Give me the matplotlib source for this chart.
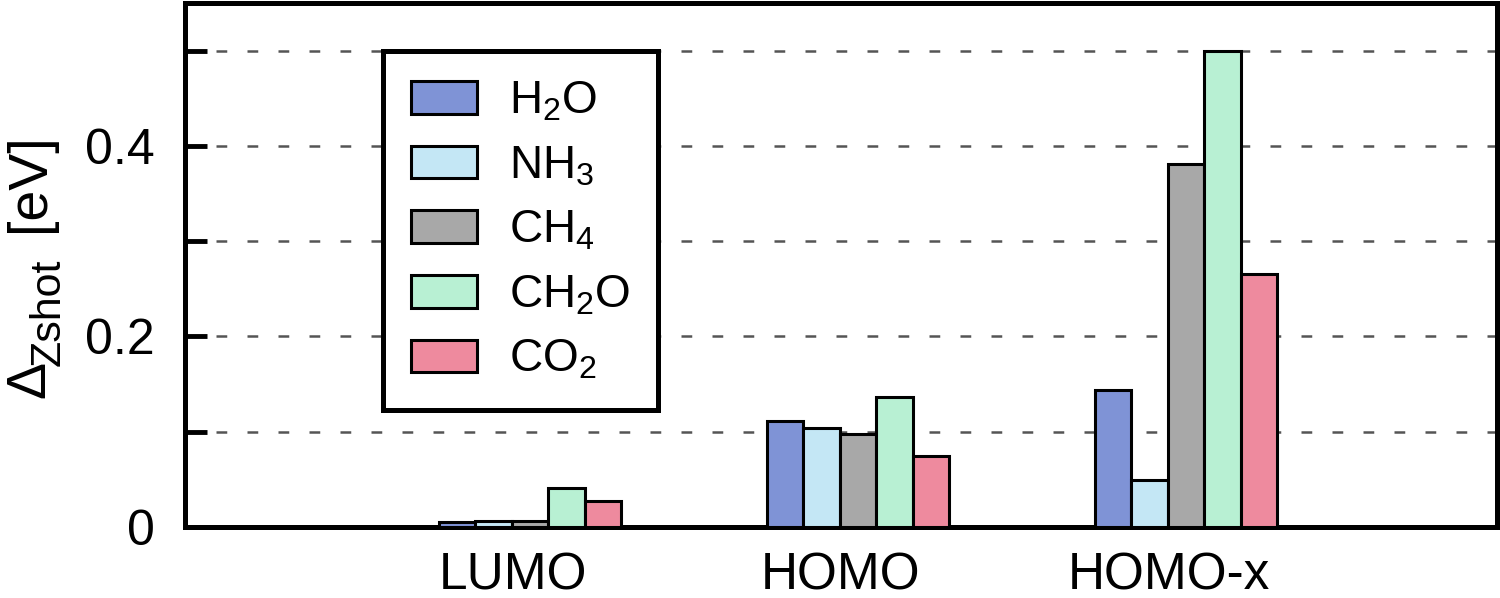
import numpy as np
import matplotlib
matplotlib.use("Agg")
import matplotlib.pyplot as plt

plt.rcParams['font.family'] = ['Liberation Sans', 'DejaVu Sans']
plt.rcParams['mathtext.fontset'] = 'custom'
plt.rcParams['mathtext.rm'] = 'Liberation Sans'
plt.rcParams['mathtext.it'] = 'Liberation Sans'
plt.rcParams['mathtext.sf'] = 'Liberation Sans'

categories = ['LUMO', 'HOMO', 'HOMO-x']
series = ['H$_2$O', 'NH$_3$', 'CH$_4$', 'CH$_2$O', 'CO$_2$']

h2o = [0.005, 0.111, 0.144]
nh3 = [0.006, 0.104, 0.049]
ch4 = [0.006, 0.098, 0.381]
ch2o = [0.041, 0.136, 0.500]
co2 = [0.027, 0.075, 0.266]

colors = ['#7f93d6', '#c4e7f5', '#a8a8a8', '#b8f0d3', '#ee8a9e']

W, H = 1500, 598
fig = plt.figure(figsize=(W / 100, H / 100), dpi=100)
ax = fig.add_axes([185 / W, 1 - 527 / H, 1312 / W, 524 / H])

x = np.arange(len(categories))
w = 1 / 9
for i, (vals, lab, c) in enumerate(zip([h2o, nh3, ch4, ch2o, co2], series, colors)):
    ax.bar(x + (i - 2) * w + 0.052, vals, w, color=c, edgecolor='black',
           linewidth=2.2, label=lab, zorder=3)

ax.set_xlim(-1, 3)
ax.set_ylim(0, 0.55)
ax.set_xticks(x)
ax.set_xticklabels(categories, fontsize=37)
ax.tick_params(axis='x', length=0, pad=18)

ax.set_yticks(np.arange(0, 0.51, 0.1))
ax.set_yticklabels(['0', '', '0.2', '', '0.4', ''], fontsize=36)
ax.tick_params(axis='y', direction='in', length=16, width=3.5, pad=22)

for yv in [0.1, 0.2, 0.3, 0.4, 0.5]:
    ax.axhline(yv, color='#555555', lw=1.8, ls=(0, (4.3, 8.1)), zorder=1)

for s in ax.spines.values():
    s.set_linewidth(3.6)

# y label: Delta with a large "Zshot" subscript, built from rotated pieces
kw = dict(rotation=90, rotation_mode='anchor', ha='left', va='baseline',
          transform=fig.transFigure)
fig.text(44 / W, 1 - 398 / H, 'Δ', fontsize=40, **kw)
fig.text(60 / W, 1 - 366 / H, 'Zshot', fontsize=31, **kw)
fig.text(44 / W, 1 - 232 / H, '[eV]', fontsize=40, **kw)

leg = ax.legend(loc='upper left', bbox_to_anchor=((383 - 185) / 1312, (527 - 51) / 524),
                fontsize=33, frameon=True, fancybox=False, framealpha=1,
                handlelength=1.42, handleheight=0.72, handletextpad=0.7,
                labelspacing=0.45, borderpad=0.62, borderaxespad=0)
leg.get_frame().set_edgecolor('black')
leg.get_frame().set_linewidth(3.6)
leg.set_zorder(5)

fig.savefig('out.png', dpi=100)
